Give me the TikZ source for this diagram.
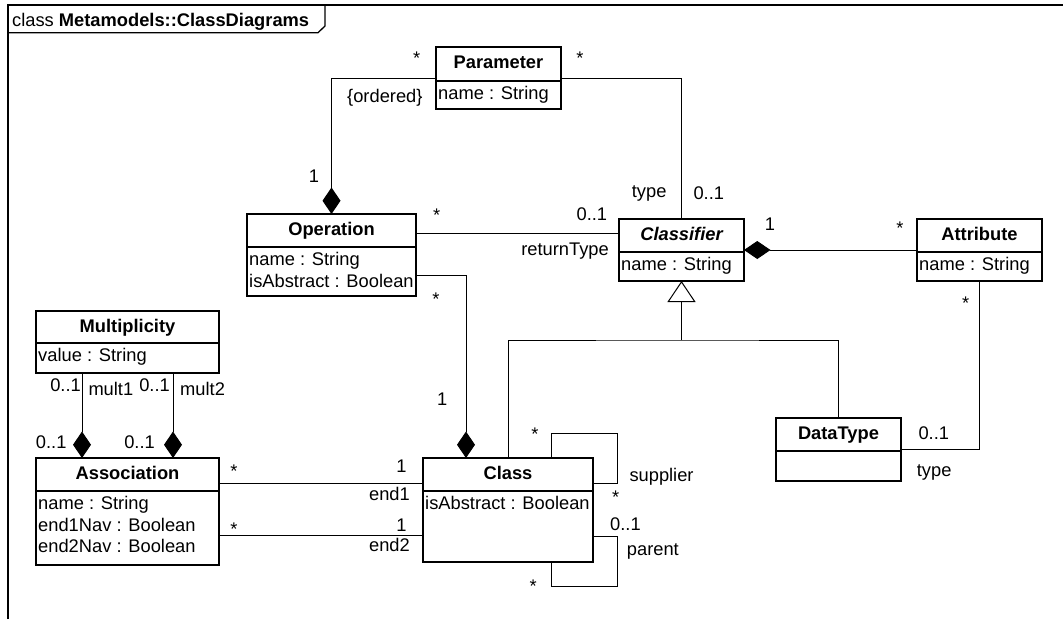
\documentclass[tikz,border=0pt]{standalone}
\usepackage{fontspec}
\setmainfont{Liberation Sans}
\usetikzlibrary{arrows.meta,calc}

\newcommand\diagfont{\fontsize{18.3}{22}\selectfont}

\tikzset{
  classbox/.style={draw, rectangle, line width=1.8pt, inner sep=0pt, outer sep=0pt},
  divider/.style={line width=1.8pt},
  titletext/.style={inner sep=0pt, anchor=base, font=\diagfont\bfseries},
  attrtext/.style={inner sep=0pt, anchor=base west, font=\diagfont},
  lbl/.style={inner sep=0pt, font=\diagfont},
  conn/.style={line width=1pt},
  compo/.style={conn, -{Diamond[length=26.5pt, width=18pt]}},
  gen/.style={conn, -{Triangle[open, length=21pt, width=28pt]}},
  framebox/.style={line width=1.3pt}
}

% box outline, compartment divider and bold title of a class
% #1 name, #2 left, #3 top, #4 right, #5 bottom, #6 divider, #7 title
\newcommand\umlclass[7]{%
  \node[classbox, minimum width={#4-#2}, minimum height={#5-#3}] (#1)
    at ({(#2+#4)/2},{(#3+#5)/2}) {};
  \draw[divider] (#2,#6) -- (#4,#6);
  \node[titletext] (#1-title) at ({(#2+#4)/2},{#3+21.5}) {#7};
}

\begin{document}
\begin{tikzpicture}[x=1pt,y=-1pt]
\useasboundingbox (0,0) rectangle (1063,619);

% diagram frame with its name tab
\draw[framebox] (8,619) -- (8,5) -- (1063,5);
\draw[framebox] (8,32.7) -- (318,32.7) -- (325,26) -- (325,5);
\node[lbl, anchor=base west] (frametitle) at (12,26) {class \textbf{Metamodels::ClassDiagrams}};

% classes
\umlclass{param}{436}{47}{561}{109}{81}{Parameter}
\node[attrtext] (param-a1) at (438,99.5) {name : String};

\umlclass{op}{247}{214}{416}{296}{247}{Operation}
\node[attrtext] (op-a1) at (249,265.5) {name : String};
\node[attrtext] (op-a2) at (249,287.2) {isAbstract : Boolean};

\umlclass{clsf}{619}{219}{744}{281}{252}{\itshape Classifier}
\node[attrtext] (clsf-a1) at (621,270.5) {name : String};

\umlclass{attr}{917}{219}{1042}{281}{252}{Attribute}
\node[attrtext] (attr-a1) at (919,270.5) {name : String};

\umlclass{mult}{36}{311}{219}{373}{343}{Multiplicity}
\node[attrtext] (mult-a1) at (38,361.5) {value : String};

\umlclass{assoc}{36}{458}{219}{565}{491}{Association}
\node[attrtext] (assoc-a1) at (38,509.5) {name : String};
\node[attrtext] (assoc-a2) at (38,531.2) {end1Nav : Boolean};
\node[attrtext] (assoc-a3) at (38,552.9) {end2Nav : Boolean};

\umlclass{cls}{423}{458}{593}{562}{491}{Class}
\node[attrtext] (cls-a1) at (425,509.5) {isAbstract : Boolean};

\umlclass{dt}{776}{418}{901}{481}{451}{DataType}

% associations and compositions
\draw[compo] (param.west) -| (op.north);
\draw[conn] (param.east) -| (clsf.north);
\draw[conn] ($(op.north east)+(0,19)$) -- ($(clsf.north west)+(0,14)$);
\draw[compo] ($(op.north east)+(0,61)$) -| ($(cls.north)+(-42,0)$);
\draw[compo] ($(attr.north west)+(0,31)$) -- ($(clsf.north east)+(0,31)$);
\draw[conn] (attr.south) |- ($(dt.north east)+(0,31)$);
\draw[compo] ($(mult.south west)+(46,0)$) -- ($(assoc.north west)+(46,0)$);
\draw[compo] ($(mult.south west)+(137,0)$) -- ($(assoc.north west)+(137,0)$);
\draw[conn] ($(assoc.north east)+(0,25)$) -- ($(cls.north west)+(0,25)$);
\draw[conn] ($(assoc.north east)+(0,77)$) -- ($(cls.north west)+(0,77)$);
% self associations of Class
\draw[conn] ($(cls.north east)+(0,25)$) -| ($(cls.north east)+(24,-25)$) -| ($(cls.north west)+(128,0)$);
\draw[conn] ($(cls.north east)+(0,78)$) -| ($(cls.south east)+(24,24)$) -| ($(cls.south west)+(128,0)$);

% generalization towards Classifier
\coordinate (genbar) at ($(clsf.south)+(0,59)$);
\draw[gen] (genbar) -- (clsf.south);
\draw[conn] (cls.north) |- (genbar) -| (dt.north);

% role names and multiplicities
\node[lbl, anchor=base] (m-pl) at (416.7,64.5) {*};
\node[lbl, anchor=base] (m-pr) at (580,64.5) {*};
\node[lbl, anchor=base east] (r-ord) at (422.7,102.5) {\{ordered\}};
\node[lbl, anchor=base] (m-op1) at (314,182.7) {1};
\node[lbl, anchor=base west] (r-type1) at (631.7,197.5) {type};
\node[lbl, anchor=base west] (m-type1) at (693.3,199.5) {0..1};
\node[lbl, anchor=base] (m-opr) at (436.7,221) {*};
\node[lbl, anchor=base east] (m-ret) at (607.3,220.7) {0..1};
\node[lbl, anchor=base east] (r-ret) at (609,255) {returnType};
\node[lbl, anchor=base] (m-clsf1) at (770,230.7) {1};
\node[lbl, anchor=base] (m-attr) at (900,234.8) {*};
\node[lbl, anchor=base] (m-attrb) at (965.7,309.5) {*};
\node[lbl, anchor=base] (m-opb) at (436,305.5) {*};
\node[lbl, anchor=base] (m-cls1) at (442.3,405.7) {1};
\node[lbl, anchor=base west] (m-dt) at (918.3,439.3) {0..1};
\node[lbl, anchor=base west] (r-dt) at (916.7,476.7) {type};
\node[lbl, anchor=base east] (m-mu1) at (81,391.7) {0..1};
\node[lbl, anchor=base west] (r-mu1) at (88.3,395) {mult1};
\node[lbl, anchor=base east] (m-mu2) at (170,391.7) {0..1};
\node[lbl, anchor=base west] (r-mu2) at (180,395) {mult2};
\node[lbl, anchor=base east] (m-as1) at (66.7,448.3) {0..1};
\node[lbl, anchor=base east] (m-as2) at (155,448.3) {0..1};
\node[lbl, anchor=base] (m-e1a) at (234,477.8) {*};
\node[lbl, anchor=base east] (m-e1c) at (406.7,472.7) {1};
\node[lbl, anchor=base east] (r-e1) at (410,500.7) {end1};
\node[lbl, anchor=base] (m-e2a) at (234,535.5) {*};
\node[lbl, anchor=base east] (m-e2c) at (406.7,531.7) {1};
\node[lbl, anchor=base east] (r-e2) at (410,551.7) {end2};
\node[lbl, anchor=base] (m-sup1) at (535,440.5) {*};
\node[lbl, anchor=base] (m-sup2) at (615.7,503) {*};
\node[lbl, anchor=base west] (r-sup) at (629.3,481.7) {supplier};
\node[lbl, anchor=base west] (m-par1) at (610,530.7) {0..1};
\node[lbl, anchor=base west] (r-par) at (626.7,555) {parent};
\node[lbl, anchor=base] (m-par2) at (533.3,592) {*};
\end{tikzpicture}
\end{document}
